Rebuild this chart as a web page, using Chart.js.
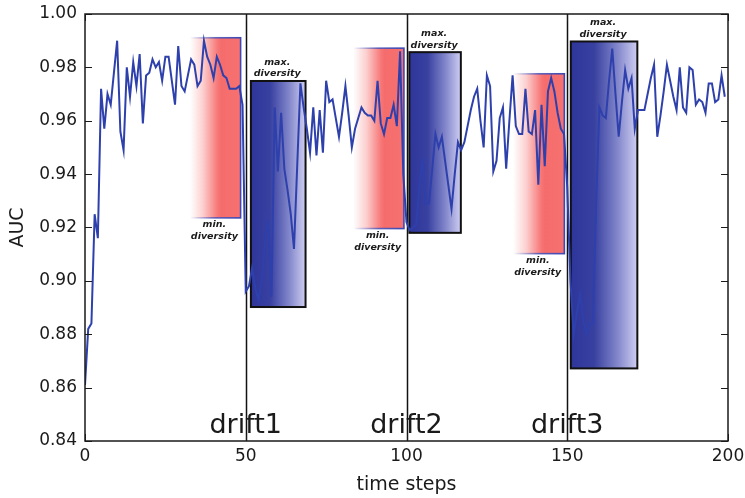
<!DOCTYPE html>
<html>
<head>
<meta charset="utf-8">
<script src="https://cdn.jsdelivr.net/npm/chart.js@4.4.1/dist/chart.umd.min.js"></script>
<style>
  html, body { margin: 0; padding: 0; background: #fff; }
  canvas { display: block; }
</style>
</head>
<body>
<canvas id="c" width="745" height="498"></canvas>
<script>
// ---- data ----
const auc = [
  0.861, 0.882, 0.884, 0.925, 0.916, 0.972, 0.957, 0.970, 0.966, 0.978,
  0.990, 0.956, 0.949, 0.980, 0.969, 0.982, 0.973, 0.985, 0.959, 0.977,
  0.978, 0.983, 0.980, 0.982, 0.975, 0.984, 0.984, 0.975, 0.966, 0.988,
  0.973, 0.971, 0.977, 0.983, 0.981, 0.973, 0.975, 0.990, 0.984, 0.981,
  0.976, 0.984, 0.981, 0.977, 0.976, 0.972, 0.972, 0.972, 0.973, 0.966,
  0.896, 0.898, 0.905, 0.897, 0.893, 0.900, 0.915, 0.923, 0.894, 0.965,
  0.941, 0.963, 0.942, 0.934, 0.925, 0.912, 0.943, 0.974, 0.965, 0.957,
  0.948, 0.965, 0.947, 0.964, 0.948, 0.975, 0.967, 0.968, 0.961, 0.954,
  0.963, 0.973, 0.962, 0.950, 0.957, 0.961, 0.965, 0.963, 0.962, 0.962,
  0.960, 0.975, 0.959, 0.955, 0.961, 0.961, 0.966, 0.958, 0.986, 0.940,
  0.922, 0.919, 0.920, 0.921, 0.935, 0.946, 0.929, 0.929, 0.942, 0.955,
  0.950, 0.954, 0.945, 0.936, 0.927, 0.940, 0.952, 0.949, 0.952, 0.958,
  0.964, 0.969, 0.972, 0.960, 0.950, 0.977, 0.973, 0.941, 0.945, 0.961,
  0.965, 0.942, 0.960, 0.977, 0.958, 0.955, 0.955, 0.972, 0.956, 0.955,
  0.964, 0.936, 0.966, 0.943, 0.971, 0.976, 0.971, 0.963, 0.957, 0.955,
  0.935, 0.900, 0.880, 0.888, 0.895, 0.885, 0.880, 0.884, 0.884, 0.930,
  0.965, 0.962, 0.961, 0.975, 0.987, 0.970, 0.954, 0.967, 0.979, 0.972,
  0.976, 0.957, 0.964, 0.964, 0.964, 0.970, 0.976, 0.981, 0.954, 0.962,
  0.971, 0.981, 0.975, 0.969, 0.964, 0.980, 0.965, 0.963, 0.980, 0.979,
  0.966, 0.968, 0.967, 0.963, 0.974, 0.974, 0.967, 0.968, 0.977, 0.969
];
const xTicks = [0, 50, 100, 150, 200];
const yTicks = [0.84, 0.86, 0.88, 0.90, 0.92, 0.94, 0.96, 0.98, 1.00];
const driftSteps = [50, 100, 150];
const driftLabels = ['drift1', 'drift2', 'drift3'];
// annotation boxes in data units: [x0, x1, y0, y1]
const minDiversityBoxes = [
  [32.7, 48.4, 0.9236, 0.9911],
  [83.5, 99.2, 0.9196, 0.9872],
  [133.2, 149.1, 0.9102, 0.9776]
];
const maxDiversityBoxes = [
  [51.6, 68.6, 0.8902, 0.9749],
  [100.9, 116.9, 0.9180, 0.9857],
  [151.1, 171.8, 0.8672, 0.9897]
];

const FONT = "'DejaVu Sans', 'Liberation Sans', sans-serif";

const overlay = {
  id: 'overlay',
  beforeDatasetsDraw(chart) {
    const { ctx, chartArea: a, scales: { x, y } } = chart;
    ctx.save();
    // drift vertical lines
    ctx.strokeStyle = '#111';
    ctx.lineWidth = 1.5;
    driftSteps.forEach(s => {
      const px = Math.round(x.getPixelForValue(s)) + 0.5;
      ctx.beginPath();
      ctx.moveTo(px, a.top);
      ctx.lineTo(px, a.bottom);
      ctx.stroke();
    });
    // min diversity boxes (red, fading from white)
    minDiversityBoxes.forEach(b => {
      const l = x.getPixelForValue(b[0]), r = x.getPixelForValue(b[1]);
      const t = y.getPixelForValue(b[3]), btm = y.getPixelForValue(b[2]);
      const g = ctx.createLinearGradient(l, 0, r, 0);
      g.addColorStop(0, 'rgb(255,255,255)');
      g.addColorStop(0.25, 'rgb(252,208,208)');
      g.addColorStop(0.55, 'rgb(247,118,118)');
      g.addColorStop(0.62, 'rgb(245,108,108)');
      g.addColorStop(1, 'rgb(247,113,113)');
      ctx.fillStyle = g;
      ctx.fillRect(l, t, r - l, btm - t);
      const sg = ctx.createLinearGradient(l, 0, r, 0);
      sg.addColorStop(0, 'rgba(60,72,180,0)');
      sg.addColorStop(0.5, 'rgba(60,72,180,0.8)');
      sg.addColorStop(1, 'rgba(60,72,180,1)');
      ctx.strokeStyle = sg;
      ctx.lineWidth = 1.6;
      ctx.strokeRect(l, t, r - l, btm - t);
    });
    // max diversity boxes (blue gradient, black border)
    maxDiversityBoxes.forEach(b => {
      const l = x.getPixelForValue(b[0]), r = x.getPixelForValue(b[1]);
      const t = y.getPixelForValue(b[3]), btm = y.getPixelForValue(b[2]);
      const g = ctx.createLinearGradient(l, 0, r, 0);
      g.addColorStop(0, 'rgb(46,54,155)');
      g.addColorStop(0.35, 'rgb(56,64,160)');
      g.addColorStop(0.7, 'rgb(130,134,202)');
      g.addColorStop(1, 'rgb(206,206,242)');
      ctx.fillStyle = g;
      ctx.fillRect(l, t, r - l, btm - t);
      ctx.strokeStyle = '#111';
      ctx.lineWidth = 2;
      ctx.strokeRect(l, t, r - l, btm - t);
    });
    ctx.restore();
  },
  afterDatasetsDraw(chart) {
    const { ctx, chartArea: a, scales: { x, y } } = chart;
    ctx.save();
    // frame
    ctx.strokeStyle = '#1a1a1a';
    ctx.lineWidth = 1.5;
    ctx.strokeRect(a.left, a.top, a.right - a.left, a.bottom - a.top);
    // inward ticks on all sides
    ctx.lineWidth = 1;
    const tl = 7;
    yTicks.forEach(v => {
      const py = Math.round(y.getPixelForValue(v)) + 0.5;
      ctx.beginPath();
      ctx.moveTo(a.left, py); ctx.lineTo(a.left + tl, py);
      ctx.moveTo(a.right, py); ctx.lineTo(a.right - tl, py);
      ctx.stroke();
    });
    xTicks.forEach(v => {
      const px = Math.round(x.getPixelForValue(v)) + 0.5;
      ctx.beginPath();
      ctx.moveTo(px, a.bottom); ctx.lineTo(px, a.bottom - tl);
      ctx.moveTo(px, a.top); ctx.lineTo(px, a.top + tl);
      ctx.stroke();
    });
    // drift labels
    ctx.fillStyle = '#1a1a1a';
    ctx.font = "27px " + FONT;
    ctx.textAlign = 'center';
    ctx.textBaseline = 'alphabetic';
    driftSteps.forEach((s, i) => {
      ctx.fillText(driftLabels[i], x.getPixelForValue(s), a.bottom - 8);
    });
    // box captions
    ctx.font = "bold italic 9.5px " + FONT;
    ctx.textBaseline = 'middle';
    minDiversityBoxes.forEach(b => {
      const cx = (x.getPixelForValue(b[0]) + x.getPixelForValue(b[1])) / 2 - 1;
      const btm = y.getPixelForValue(b[2]);
      ctx.fillText('min.', cx, btm + 7);
      ctx.fillText('diversity', cx, btm + 18.5);
    });
    maxDiversityBoxes.forEach(b => {
      const cx = (x.getPixelForValue(b[0]) + x.getPixelForValue(b[1])) / 2 - 1;
      const t = y.getPixelForValue(b[3]);
      ctx.fillText('max.', cx, t - 18.5);
      ctx.fillText('diversity', cx, t - 7);
    });
    ctx.restore();
  }
};

new Chart(document.getElementById('c'), {
  type: 'line',
  data: {
    datasets: [{
      label: 'AUC',
      data: auc.map((v, i) => ({ x: i, y: v })),
      borderColor: 'rgb(46,64,172)',
      borderWidth: 2,
      pointRadius: 0,
      tension: 0,
      fill: false
    }]
  },
  options: {
    responsive: false,
    devicePixelRatio: 1,
    animation: false,
    layout: { padding: { top: 14, right: 17, left: 0, bottom: 0 } },
    plugins: { legend: { display: false }, tooltip: { enabled: false } },
    scales: {
      x: {
        type: 'linear',
        min: 0, max: 200,
        afterBuildTicks: s => { s.ticks = xTicks.map(v => ({ value: v })); },
        afterFit: s => { s.height = 57; s.paddingLeft = 0; s.paddingRight = 0; },
        grid: { display: false, drawTicks: false },
        border: { display: false },
        ticks: {
          padding: 5,
          color: '#1a1a1a',
          font: { family: FONT, size: 17 },
          callback: v => String(v),
          maxRotation: 0
        },
        title: {
          display: true,
          text: 'time steps',
          color: '#1a1a1a',
          font: { family: FONT, size: 19 },
          padding: { top: 0, bottom: 2 }
        }
      },
      y: {
        type: 'linear',
        min: 0.84, max: 1.00,
        afterBuildTicks: s => { s.ticks = yTicks.map(v => ({ value: v })); },
        afterFit: s => { s.width = 85; s.paddingTop = 0; s.paddingBottom = 0; },
        grid: { display: false, drawTicks: false },
        border: { display: false },
        ticks: {
          padding: 8,
          color: '#1a1a1a',
          font: { family: FONT, size: 17 },
          callback: v => Number(v).toFixed(2)
        },
        title: {
          display: true,
          text: 'AUC',
          color: '#1a1a1a',
          font: { family: FONT, size: 19 },
          padding: { top: 7, bottom: 0 }
        }
      }
    }
  },
  plugins: [overlay]
});
</script>
</body>
</html>
